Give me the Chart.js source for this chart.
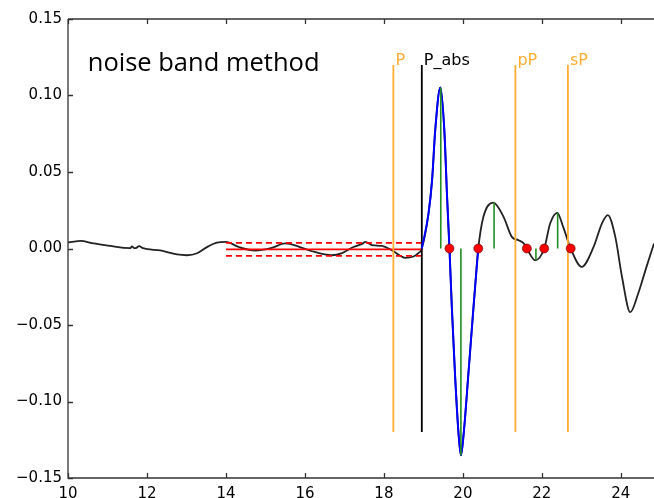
<!DOCTYPE html>
<html>
<head>
<meta charset="utf-8">
<script src="https://cdn.jsdelivr.net/npm/chart.js@4"></script>
<style>
  body { margin: 0; background: #fff; }
  #wrap { width: 654px; height: 498px; }
</style>
</head>
<body>
<div id="wrap"><canvas id="chart" width="654" height="498"></canvas></div>
<script>
// Waveform (time in s, amplitude)
const waveX = [10.0, 10.15, 10.31, 10.65, 11.07, 11.41, 11.58, 11.62, 11.68, 11.73, 11.8, 11.9,
    12.34, 12.76, 13.01, 13.27, 13.52, 13.77, 14.0, 14.32, 14.74, 15.16, 15.5, 15.84, 16.18,
    16.68, 16.94, 17.23, 17.45, 17.53, 17.7, 17.95, 18.2, 18.54, 18.75, 18.86, 18.96,
    19.13, 19.22, 19.3, 19.43, 19.53, 19.6, 19.66, 19.72, 19.8, 19.89, 19.95, 20.02, 20.14,
    20.27, 20.39, 20.52, 20.77, 21.03, 21.24, 21.41, 21.54, 21.62, 21.83, 22.06, 22.21, 22.39,
    22.54, 22.73, 23.01, 23.31, 23.52, 23.67, 23.86, 24.03, 24.24, 24.44, 24.65, 24.84];
const waveY = [0.0039, 0.0045, 0.0050, 0.0033, 0.0017, 0.0004, 0.0003, 0.0014, 0.0002, 0.0004, 0.0016, 0.0002,
    -0.0013, -0.0039, -0.0044, -0.0031, 0.0009, 0.0039, 0.0043, 0.0010, -0.0013, 0.0004, 0.0033, 0.0013, -0.0018,
    -0.0044, -0.0030, 0.0010, 0.0030, 0.0043, 0.0022, 0.0017, -0.0011, -0.0061, -0.0052, -0.0033, 0.0,
    0.0229, 0.0447, 0.0774, 0.1053, 0.0774, 0.0337, 0.0, -0.0382, -0.0818, -0.121, -0.1352, -0.121, -0.0818,
    -0.038, 0.0, 0.0207, 0.030, 0.0207, 0.0076, 0.0054, 0.0033, 0.0, -0.0077, 0.0, 0.0163, 0.0233,
    0.0141, 0.0, -0.012, 0.001, 0.0163, 0.0218, 0.0076, -0.0186, -0.0416, -0.0294, -0.012, 0.0033];

// Phase picks
const phaseNames = ['P', 'P_abs', 'pP', 'sP'];
const phaseTimes = [18.24, 18.96, 21.33, 22.66];
const phaseTop = 0.12;
const phaseBottom = -0.12;

// First pulse window (blue)
const pulseStart = 18.96;
const pulseEnd = 20.39;

// Zero crossings and extrema
const crossTimes = [19.66, 20.39, 21.62, 22.06, 22.73];
const peakTimes = [19.44, 19.95, 20.79, 21.85, 22.4];
const peakAmps = [0.1053, -0.1352, 0.030, -0.0077, 0.0233];

// Noise band
const noiseStart = 14.0;
const noiseEnd = 18.96;
const noiseMean = -0.0006;
const noiseUpper = 0.0037;
const noiseLower = -0.0048;

// Axes
const xTickValues = [10, 12, 14, 16, 18, 20, 22, 24];
const yTickValues = [-0.15, -0.10, -0.05, 0.0, 0.05, 0.10, 0.15];

const titleText = 'noise band method';

const ORANGE = '#ffad33';
const phaseColors = [ORANGE, '#000000', ORANGE, ORANGE];

const wavePoints = waveX.map((x, i) => ({ x: x, y: waveY[i] }));
const pulsePoints = wavePoints.filter(p => p.x >= pulseStart && p.x <= pulseEnd);

const greenPoints = [];
peakTimes.forEach((t, i) => {
    greenPoints.push({ x: t, y: 0 }, { x: t, y: peakAmps[i] }, { x: t, y: null });
});

const datasets = [
    {
        data: crossTimes.map(t => ({ x: t, y: 0 })),
        showLine: false,
        pointRadius: 4.5,
        pointBackgroundColor: '#ff0000',
        pointBorderColor: '#550000',
        pointBorderWidth: 0.6,
        order: 0
    },
    {
        data: greenPoints,
        showLine: true,
        spanGaps: false,
        borderColor: '#1f8f1f',
        borderWidth: 1.6,
        pointRadius: 0,
        order: 1
    },
    {
        data: pulsePoints,
        showLine: true,
        borderColor: '#0000ff',
        borderWidth: 2,
        pointRadius: 0,
        cubicInterpolationMode: 'monotone',
        order: 2
    }
];

phaseTimes.forEach((t, i) => {
    datasets.push({
        data: [{ x: t, y: phaseBottom }, { x: t, y: phaseTop }],
        showLine: true,
        borderColor: phaseColors[i],
        borderWidth: 1.8,
        pointRadius: 0,
        order: 3
    });
});

[[noiseMean, []], [noiseUpper, [6, 4]], [noiseLower, [6, 4]]].forEach(([lvl, dash]) => {
    datasets.push({
        data: [{ x: noiseStart, y: lvl }, { x: noiseEnd, y: lvl }],
        showLine: true,
        borderColor: '#ff0000',
        borderWidth: 1.7,
        borderDash: dash,
        pointRadius: 0,
        order: 4
    });
});

datasets.push({
    data: wavePoints,
    showLine: true,
    borderColor: '#222222',
    borderWidth: 1.8,
    pointRadius: 0,
    cubicInterpolationMode: 'monotone',
    order: 5
});

// frame, inward ticks and text labels
const decorations = {
    id: 'decorations',
    afterDraw(chart) {
        const ctx = chart.ctx;
        const area = chart.chartArea;
        const xs = chart.scales.x;
        const ys = chart.scales.y;
        ctx.save();
        ctx.strokeStyle = '#333333';
        ctx.lineWidth = 1.3;
        ctx.beginPath();
        ctx.moveTo(area.left, area.top);
        ctx.lineTo(area.right, area.top);
        ctx.moveTo(area.left, area.top);
        ctx.lineTo(area.left, area.bottom);
        ctx.lineTo(area.right, area.bottom);
        xTickValues.forEach(v => {
            const px = Math.round(xs.getPixelForValue(v)) + 0.5;
            ctx.moveTo(px, area.bottom);
            ctx.lineTo(px, area.bottom - 5);
            ctx.moveTo(px, area.top);
            ctx.lineTo(px, area.top + 5);
        });
        yTickValues.forEach(v => {
            const py = Math.round(ys.getPixelForValue(v)) + 0.5;
            ctx.moveTo(area.left, py);
            ctx.lineTo(area.left + 5, py);
        });
        ctx.stroke();

        ctx.textBaseline = 'alphabetic';
        ctx.textAlign = 'left';
        ctx.font = '16px "DejaVu Sans"';
        phaseNames.forEach((name, i) => {
            ctx.fillStyle = phaseColors[i];
            ctx.fillText(name, xs.getPixelForValue(phaseTimes[i]) + 2, ys.getPixelForValue(phaseTop));
        });

        ctx.fillStyle = '#000000';
        ctx.font = '25.5px "Open Sans"';
        ctx.fillText(titleText, xs.getPixelForValue(10.5), ys.getPixelForValue(0.116));
        ctx.restore();
    }
};

new Chart(document.getElementById('chart'), {
    type: 'scatter',
    data: { datasets: datasets },
    options: {
        responsive: false,
        animation: false,
        layout: { autoPadding: false, padding: { top: 19, right: 0, left: 0, bottom: 0 } },
        plugins: {
            legend: { display: false },
            tooltip: { enabled: false }
        },
        scales: {
            x: {
                type: 'linear',
                min: 10,
                max: 24.84,
                grid: { display: false, drawTicks: false },
                border: { display: false },
                afterBuildTicks: (scale) => { scale.ticks = xTickValues.map(v => ({ value: v })); },
                afterFit: (scale) => { scale.height = 20; scale.paddingLeft = 0; scale.paddingRight = 0; },
                ticks: {
                    padding: 7,
                    color: '#000',
                    font: { family: 'DejaVu Sans', size: 15 },
                    callback: (v) => String(v)
                }
            },
            y: {
                type: 'linear',
                min: -0.15,
                max: 0.15,
                grid: { display: false, drawTicks: false },
                border: { display: false },
                afterBuildTicks: (scale) => { scale.ticks = yTickValues.map(v => ({ value: v })); },
                afterFit: (scale) => { scale.width = 68; scale.paddingTop = 0; scale.paddingBottom = 0; },
                ticks: {
                    padding: 6,
                    color: '#000',
                    font: { family: 'DejaVu Sans', size: 15 },
                    callback: (v) => (v < -1e-9 ? '\u2212' : '') + Math.abs(v).toFixed(2)
                }
            }
        }
    },
    plugins: [decorations]
});
</script>
</body>
</html>
